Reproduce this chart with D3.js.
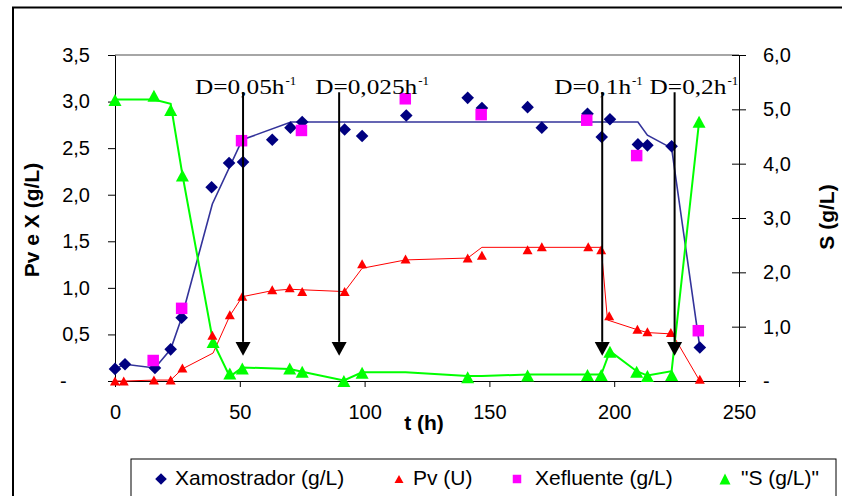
<!DOCTYPE html>
<html lang="pt">
<head>
<meta charset="UTF-8">
<title>Pv, X e S</title>
<script src="https://d3js.org/d3.v7.min.js"></script>
<style>
  body { margin: 0; background: #fff; }
  text { font-family: "Liberation Sans", Arial, sans-serif; fill: #000; }
  .axis .tick text { font-size: 20px; }
  .axis path, .axis line { stroke: #000; stroke-width: 1px; }
  .title { font-weight: bold; }
  .dlabel { font-family: "Liberation Serif", "Times New Roman", serif; font-size: 22px; }
  .dsup { font-family: "Liberation Serif", "Times New Roman", serif; font-size: 13px; }
  .legend text { font-size: 21px; }
</style>
</head>
<body>
<svg width="842" height="496"></svg>
<script>
// Xamostrador (g/L) - diamantes
var xamT = [0, 4, 16, 22.3, 26.7, 38.7, 45.7, 51.3, 63, 70.3, 75, 92, 99, 116.7, 141.3, 147, 165.3, 171, 189.3, 195, 198.3, 209.5, 213.3, 223, 234.3];
var xamV = [0.13, 0.18, 0.14, 0.34, 0.68, 2.08, 2.34, 2.35, 2.59, 2.72, 2.78, 2.70, 2.63, 2.85, 3.04, 2.93, 2.94, 2.72, 2.87, 2.62, 2.81, 2.54, 2.53, 2.52, 0.36];

// Pv (U) - triangulos vermelhos
var pvT = [0, 3.5, 15.6, 22.3, 27, 39, 46, 51, 63, 70, 75, 92, 99, 116.4, 141.3, 147, 165.3, 171, 189.6, 194.8, 198, 209.3, 213.3, 222.7, 234.3];
var pvV = [0, 0, 0.01, 0.01, 0.14, 0.49, 0.71, 0.91, 0.98, 1.0, 0.96, 0.96, 1.26, 1.31, 1.32, 1.35, 1.41, 1.44, 1.44, 1.41, 0.70, 0.555, 0.53, 0.52, 0.02];

// Xefluente (g/L) - quadrados
var xefT = [15.3, 26.7, 50.7, 74.7, 116.3, 146.7, 189, 209, 233.7];
var xefV = [0.22, 0.78, 2.58, 2.69, 3.03, 2.86, 2.80, 2.42, 0.54];

// "S (g/L)" - eixo da direita
var sT = [0, 15.6, 22.3, 27, 39.3, 46, 51, 70, 75, 91.7, 99, 141.3, 165.3, 189.3, 194.8, 198.3, 209, 213.3, 223, 234];
var sV = [5.17, 5.25, 4.99, 3.78, 0.72, 0.14, 0.23, 0.23, 0.17, 0, 0.15, 0.07, 0.10, 0.11, 0.11, 0.54, 0.17, 0.09, 0.11, 4.77];

// linhas (modelo) sem marcador
var xFitT = [0, 4, 16, 22.3, 26.7, 39, 51, 70.5, 209.5, 213.3, 223, 234.3];
var xFitV = [0.13, 0.18, 0.14, 0.34, 0.68, 1.9, 2.59, 2.78, 2.78, 2.64, 2.50, 0.36];

var pvFitT = [0, 4, 16, 22.3, 27, 39.3, 46, 51, 63, 70, 92, 99, 116.4, 141.3, 147, 194.8, 197.3, 209.3, 213.3, 223.3, 234.3];
var pvFitV = [0, 0, 0.01, 0.01, 0.13, 0.30, 0.70, 0.905, 0.97, 0.985, 0.96, 1.21, 1.30, 1.32, 1.435, 1.435, 0.655, 0.55, 0.52, 0.505, 0];

var sFitT = [0, 15.6, 22.3, 27, 39.3, 46, 51, 70, 75, 91.7, 99, 116.4, 141.3, 147, 165.3, 189.3, 194.8, 198.3, 209, 213.3, 223, 234];
var sFitV = [5.18, 5.18, 5.1, 3.8, 0.72, 0.08, 0.25, 0.22, 0.17, 0.01, 0.16, 0.16, 0.09, 0.09, 0.12, 0.12, 0.12, 0.55, 0.18, 0.1, 0.18, 4.77];

// mudancas da taxa de diluicao
var dilT = [51.3, 89.8, 195.2, 224.2];
var dilLabel = ["D=0,05h", "D=0,025h", "D=0,1h", "D=0,2h"];

var xTicks = [0, 50, 100, 150, 200, 250];
var yLTicks = [0, 0.5, 1, 1.5, 2, 2.5, 3, 3.5];
var yRTicks = [0, 1, 2, 3, 4, 5, 6];

var legendNames = ["Xamostrador (g/L)", "Pv (U)", "Xefluente (g/L)", "\"S (g/L)\""];


var svg = d3.select("svg");
svg.append("rect").attr("width", 842).attr("height", 496).attr("fill", "#fff");

// moldura externa
svg.append("rect")
    .attr("x", 13).attr("y", 7.5).attr("width", 850).attr("height", 520)
    .attr("fill", "none").attr("stroke", "#000").attr("stroke-width", 2);

var x = d3.scaleLinear().domain([0, 250]).range([115, 739]);
var yL = d3.scaleLinear().domain([0, 3.5]).range([381, 55]);
var yR = d3.scaleLinear().domain([0, 6]).range([381, 55]);

function fmt(d) {
    return d === 0 ? "-" : d3.format(".1f")(d).replace(".", ",");
}

// borda superior cinza da area de plotagem
svg.append("line")
    .attr("x1", x(0)).attr("x2", x(250))
    .attr("y1", yL(3.5)).attr("y2", yL(3.5))
    .attr("stroke", "#888").attr("stroke-width", 1.5);

var gL = svg.append("g").attr("class", "axis")
    .attr("transform", "translate(" + x(0) + ",0)")
    .call(d3.axisLeft(yL).tickValues(yLTicks).tickSize(7).tickSizeOuter(0)
        .tickPadding(18).tickFormat(fmt));
gL.selectAll(".tick text").filter(function(d) { return d === 0; })
    .attr("text-anchor", "start").attr("x", -55);

var gR = svg.append("g").attr("class", "axis")
    .attr("transform", "translate(" + x(250) + ",0)")
    .call(d3.axisRight(yR).tickValues(yRTicks).tickSize(7).tickSizeOuter(0)
        .tickPadding(17).tickFormat(fmt));
gR.selectAll(".tick line").attr("x1", -7);

var gB = svg.append("g").attr("class", "axis")
    .attr("transform", "translate(0," + yL(0) + ")")
    .call(d3.axisBottom(x).tickValues(xTicks).tickSize(6).tickSizeOuter(0)
        .tickPadding(18).tickFormat(d3.format("d")));

// titulos dos eixos
svg.append("text").attr("class", "title")
    .attr("transform", "translate(39,220) rotate(-90)")
    .attr("text-anchor", "middle").style("font-size", "21px")
    .text("Pv e X (g/L)");
svg.append("text").attr("class", "title")
    .attr("transform", "translate(834,217) rotate(-90)")
    .attr("text-anchor", "middle").style("font-size", "21px")
    .text("S (g/L)");
svg.append("text").attr("class", "title")
    .attr("x", 424).attr("y", 430)
    .attr("text-anchor", "middle").style("font-size", "21px")
    .text("t (h)");

function pairs(t, v) {
    return t.map(function(d, i) { return [d, v[i]]; });
}

var lineL = d3.line().x(function(d) { return x(d[0]); }).y(function(d) { return yL(d[1]); });
var lineR = d3.line().x(function(d) { return x(d[0]); }).y(function(d) { return yR(d[1]); });

svg.append("path").datum(pairs(xFitT, xFitV)).attr("d", lineL)
    .attr("fill", "none").attr("stroke", "#33339a").attr("stroke-width", 1.6);
svg.append("path").datum(pairs(pvFitT, pvFitV)).attr("d", lineL)
    .attr("fill", "none").attr("stroke", "#ff0000").attr("stroke-width", 1);
svg.append("path").datum(pairs(sFitT, sFitV)).attr("d", lineR)
    .attr("fill", "none").attr("stroke", "#00ff00").attr("stroke-width", 2);

function diamond(r) { return "M0," + (-r) + "L" + r + ",0L0," + r + "L" + (-r) + ",0Z"; }
function triangle(w, h) { return "M0," + (-h / 2) + "L" + (w / 2) + "," + (h / 2) + "L" + (-w / 2) + "," + (h / 2) + "Z"; }
function square(s) { return "M" + (-s / 2) + "," + (-s / 2) + "h" + s + "v" + s + "h" + (-s) + "Z"; }

function markers(data, yScale, shape, color) {
    svg.append("g").selectAll("path")
        .data(data)
        .enter().append("path")
        .attr("transform", function(d) { return "translate(" + x(d[0]) + "," + yScale(d[1]) + ")"; })
        .attr("d", shape)
        .attr("fill", color);
}

markers(pairs(sT, sV), yR, triangle(13, 12), "#00ff00");
markers(pairs(pvT, pvV), yL, triangle(10, 9), "#ff0000");
markers(pairs(xamT, xamV), yL, diamond(6.3), "#000080");
markers(pairs(xefT, xefV), yL, square(11.5), "#ff00ff");

// setas das taxas de diluicao
var labelShift = [-48, -24, -48, -25];
dilT.forEach(function(t, i) {
    var ax = x(t);
    svg.append("line")
        .attr("x1", ax).attr("x2", ax)
        .attr("y1", yL(3.1)).attr("y2", yL(0.42))
        .attr("stroke", "#000").attr("stroke-width", 2);
    svg.append("path")
        .attr("d", "M" + (ax - 7.5) + "," + yL(0.42) + "L" + (ax + 7.5) + "," + yL(0.42) + "L" + ax + "," + yL(0.27) + "Z")
        .attr("fill", "#000");
    var lbl = svg.append("text").attr("class", "dlabel")
        .attr("x", ax + labelShift[i]).attr("y", 94)
        .text(dilLabel[i]);
    var w = lbl.node().getComputedTextLength() * 1.15;
    lbl.attr("textLength", w).attr("lengthAdjust", "spacingAndGlyphs");
    svg.append("text").attr("class", "dsup")
        .attr("x", ax + labelShift[i] + w + 1).attr("y", 85)
        .text("-1");
});

// legenda
var legend = svg.append("g").attr("class", "legend");
legend.append("rect")
    .attr("x", 131).attr("y", 459).attr("width", 705).attr("height", 60)
    .attr("fill", "#fff").attr("stroke", "#000").attr("stroke-width", 1);

var legendShapes = [diamond(5.8), triangle(9, 8), square(8.5), triangle(11, 11)];
var legendColors = ["#000080", "#ff0000", "#ff00ff", "#00ff00"];
var legendMarkX = [161, 399, 517, 725];
var legendTextX = [175, 413, 535, 741];

legendNames.forEach(function(name, i) {
    legend.append("path")
        .attr("transform", "translate(" + legendMarkX[i] + ",479)")
        .attr("d", legendShapes[i])
        .attr("fill", legendColors[i]);
    legend.append("text")
        .attr("x", legendTextX[i]).attr("y", 485)
        .text(name);
});
</script>
</body>
</html>
